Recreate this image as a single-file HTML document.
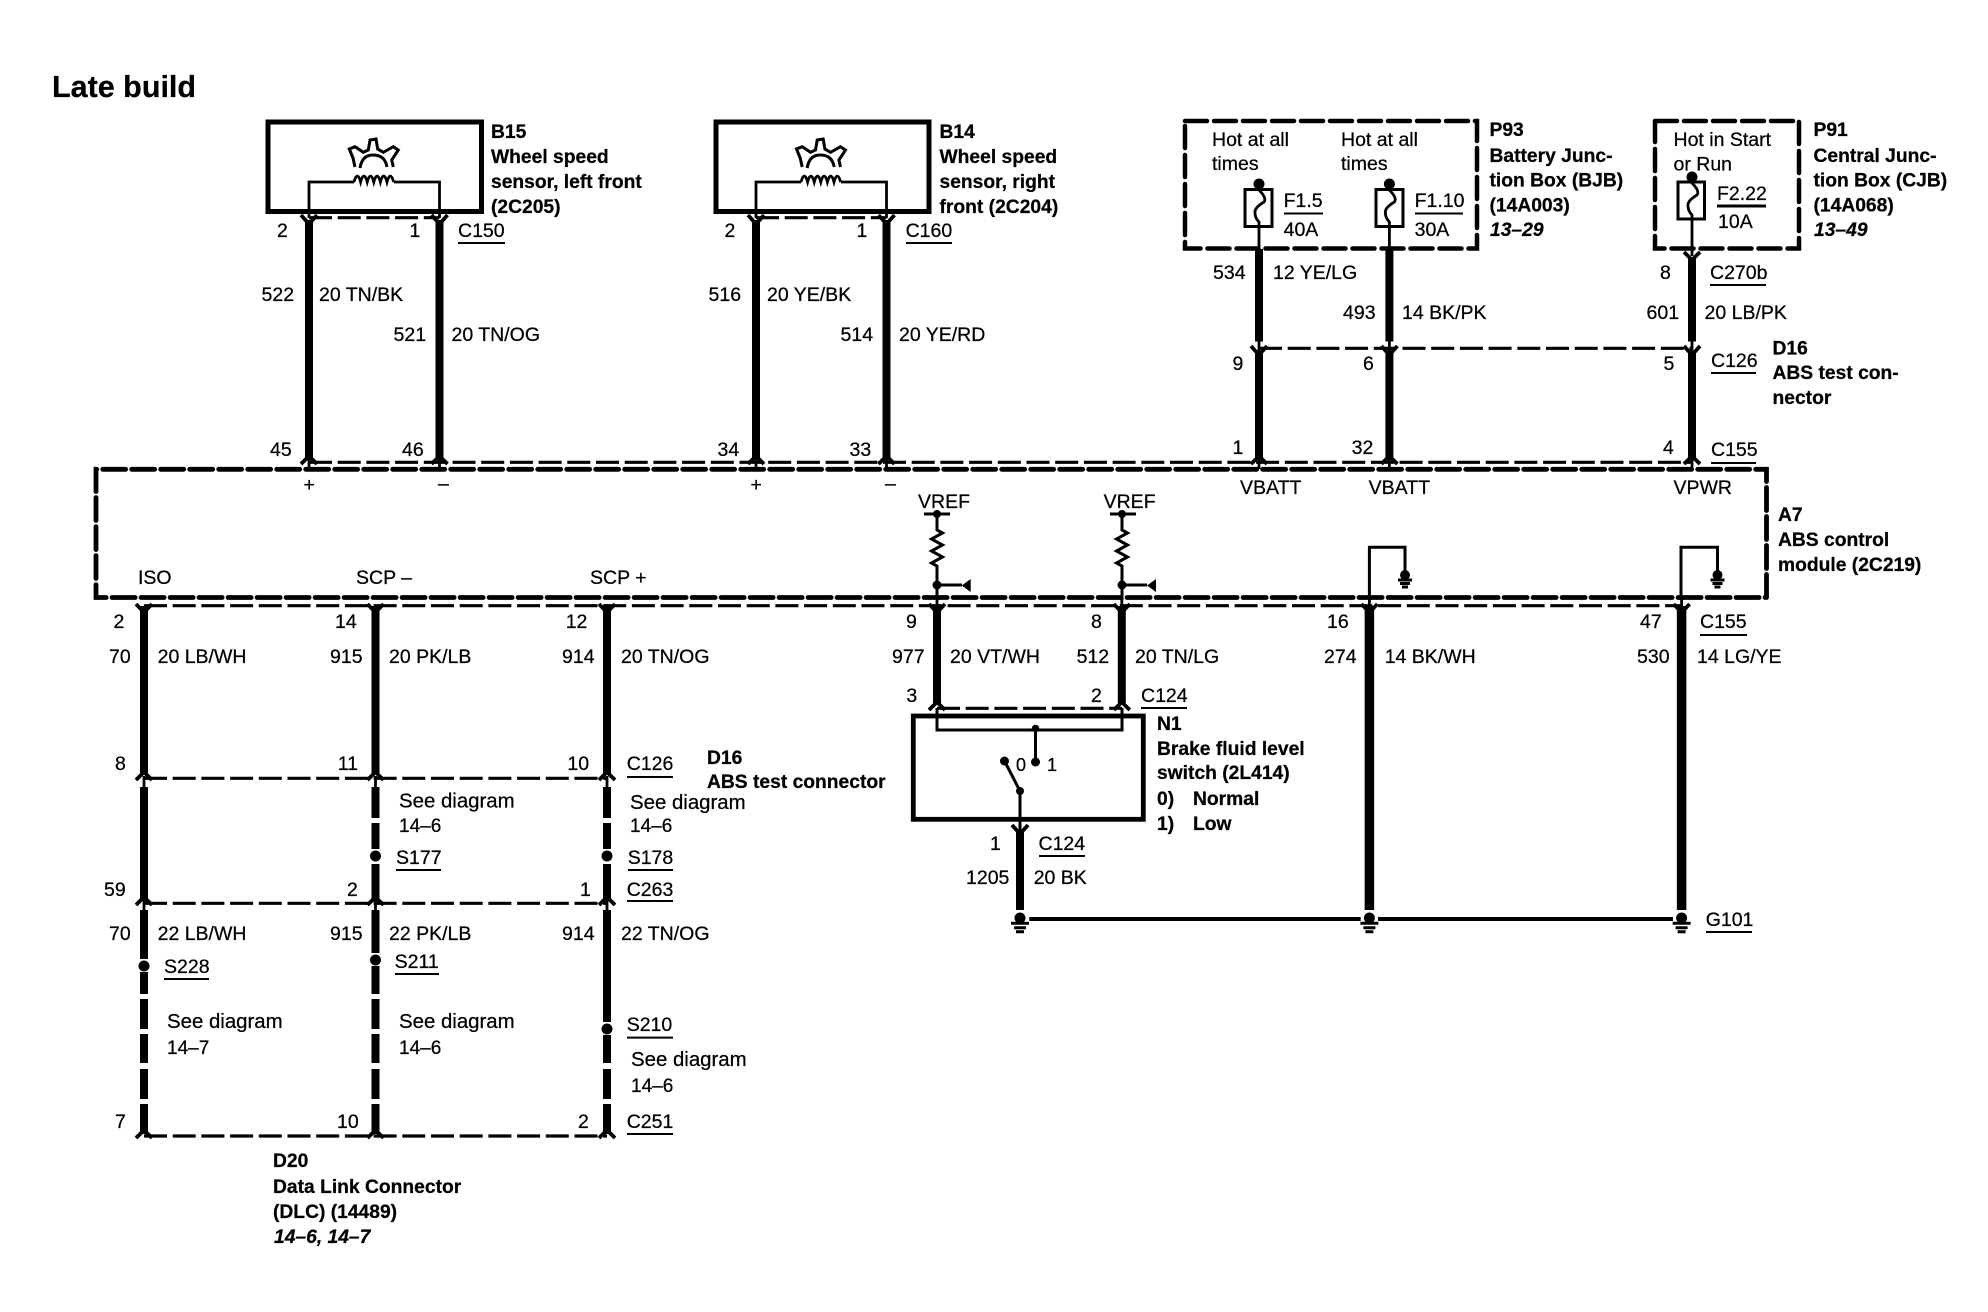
<!DOCTYPE html>
<html><head><meta charset="utf-8"><title>Late build</title>
<style>
html,body{margin:0;padding:0;background:#fff}
svg{display:block}
text{font-family:"Liberation Sans",sans-serif;font-size:19.5px;fill:#000;stroke:#000;stroke-width:.25}
.b{font-weight:bold;font-size:19.25px}
.bi{font-weight:bold;font-style:italic;font-size:19.25px}
.t{font-size:30.5px;font-weight:bold}
.sd{font-size:20.4px}
.nn{font-size:19px}
.sw{font-size:18px}
.w{stroke:#000;stroke-width:8;fill:none}
.h{stroke:#000;stroke-width:9.5;fill:none}
.n{stroke:#000;stroke-width:2.8;fill:none}
.m{stroke:#000;stroke-width:3;fill:none}
.c{stroke:#000;stroke-width:3.8;fill:none}
.box{stroke:#000;stroke-width:5;fill:none}
.dm{stroke:#000;stroke-width:4.8;fill:none;stroke-dasharray:23 6;stroke-linecap:round}
.dc{stroke:#000;stroke-width:3.2;fill:none;stroke-dasharray:23 5.700}
.u{stroke:#000;stroke-width:2;fill:none}
</style></head><body>
<svg xmlns="http://www.w3.org/2000/svg" width="1988" height="1312" viewBox="0 0 1988 1312">
<rect width="1988" height="1312" fill="#fff"/>
<text class="t" x="52" y="97">Late build</text>

<!-- Sensor boxes -->
<rect class="box" x="268" y="122" width="213.5" height="89.500"/>
<rect class="box" x="716" y="122" width="213" height="89.500"/>
<path class="n" d="M309 218V182H354M394 182H439.500V218"/>
<path class="n" d="M354 182q1.600-6 3.300-6t3.300 6q1.600-6 3.300-6t3.300 6q1.600-6 3.300-6t3.300 6q1.600-6 3.300-6t3.300 6q1.600-6 3.300-6t3.300 6q1.600-6 3.300-6t3.300 6"/>
<path class="n" d="M756 218V182H801M841 182H886.500V218"/>
<path class="n" d="M801 182q1.600-6 3.300-6t3.300 6q1.600-6 3.300-6t3.300 6q1.600-6 3.300-6t3.300 6q1.600-6 3.300-6t3.300 6q1.600-6 3.300-6t3.300 6q1.600-6 3.300-6t3.300 6"/>
<path class="m" d="M355 167L353 158L349.300 149L355 146.700L363.300 152.300L368.300 150L370 140L376 139L377.700 149L383.300 152.300L393.300 146.700L398.300 150L391.700 160L393.300 167M360 168Q362 155 373 155Q385 155 387 167"/>
<path class="m" d="M802.200 167L800.200 158L796.500 149L802.200 146.700L810.500 152.300L815.500 150L817.200 140L823.200 139L824.900 149L830.500 152.300L840.500 146.700L845.500 150L838.900 160L840.500 167M807.200 168Q809.200 155 820.200 155Q832.200 155 834.200 167"/>

<!-- Module A7 -->
<path class="dm" d="M1766.500 597.500V469.300H96V597.500H1766.500"/>

<!-- connector dashed lines -->
<path class="dc" d="M309 217.700H439.500M756 217.700H886.500"/>
<path class="dc" d="M309 462.300H1692"/>
<path class="dc" d="M1259 348.300H1692"/>
<path class="dc" d="M144 605.700H1682"/>
<path class="dc" d="M937 708.300H1122"/>
<path class="dc" d="M144 778.300H607M144 903.300H607M144 1136H607"/>

<!-- top thick wires -->
<path class="w" d="M309 220V460M439.500 220V460M756 220V460M886.500 220V460"/>
<path class="w" d="M1259 249V341.500M1389.400 249V341.500M1692 258V341.500M1259 352V460M1389.400 352V460M1692 352V460"/>
<path class="n" d="M1259 341V352M1389.400 341V352M1692 341V352"/>

<!-- chevrons -->
<path class="c" d="M301 215l8 9l8-9M431.500 215l8 9l8-9M748 215l8 9l8-9M878.500 215l8 9l8-9"/>
<path class="c" d="M301 464l8-8l8 8M431.500 464l8-8l8 8M748 464l8-8l8 8M878.500 464l8-8l8 8M1251 464l8-8l8 8M1381.400 464l8-8l8 8M1684 464l8-8l8 8"/>
<path class="c" d="M1251 346l8 9l8-9M1381.400 346l8 9l8-9M1684 346l8 9l8-9M1684 252l8 8l8-8"/>
<path class="n" d="M309 456V469M439.500 456V469M756 456V469M886.500 456V469M1259 456V469M1389.400 456V469M1692 456V469"/>

<!-- Fuse boxes -->
<path class="dm" style="stroke-width:4.500;stroke-dasharray:22 7" d="M1185 121H1477V248.500H1185V121"/>
<path class="dm" style="stroke-width:4.500;stroke-dasharray:22 7" d="M1655 121H1799V248.500H1655V121"/>
<rect class="m" x="1245" y="189.500" width="27" height="37"/>
<rect class="m" x="1376" y="189.500" width="27" height="37"/>
<rect class="m" x="1678" y="182" width="26.500" height="37"/>
<path class="n" d="M1259 184V190Q1267 198 1264 202Q1254 208 1255 213Q1255 218 1259 222V249"/>
<path class="n" d="M1389.400 184V190Q1397.400 198 1394.400 202Q1384.400 208 1385.400 213Q1385.400 218 1389.400 222V249"/>
<path class="n" d="M1692 177V183Q1700 191 1697 195Q1687 201 1688 206Q1688 211 1692 215V256"/>
<circle cx="1259" cy="184" r="5.500"/><circle cx="1389.400" cy="184" r="5.500"/><circle cx="1692" cy="177" r="5.500"/>
<path class="u" d="M1284 213.500H1323M1415 213.500H1463"/>
<path class="m" d="M1717 206H1766"/>

<!-- bottom thick wires -->
<path class="w" d="M144 606V775M375.500 606V775M607 606V775"/>
<path class="w" d="M937 606V703M1121.800 606V703"/>
<path class="h" d="M1369.400 606V910M1681.600 606V910"/>
<path class="n" d="M937 597V610M1121.800 597V610M1369.400 597V610M1681.600 597V610"/>
<path class="c" d="M136 604l8 8.500l8-8.500M367.500 604l8 8.500l8-8.500M599 604l8 8.500l8-8.500M929 604l8 8.500l8-8.500M1113.800 604l8 8.500l8-8.500M1361.400 604l8 8.500l8-8.500M1673.600 604l8 8.500l8-8.500"/>
<path class="c" d="M136 780l8-8l8 8M367.500 780l8-8l8 8M599 780l8-8l8 8M136 905l8-8l8 8M367.500 905l8-8l8 8M599 905l8-8l8 8M136 1138l8-8l8 8M367.500 1138l8-8l8 8M599 1138l8-8l8 8M929 710l8-8l8 8M1113.800 710l8-8l8 8"/>
<path class="n" d="M144 776V788M375.500 776V788M607 776V788M144 900V911M375.500 900V911M607 900V911"/>

<!-- lower harness -->
<path class="w" d="M144 787V899M375.500 787V818M375.500 823V849M375.500 864V899M607 787V818M607 823V849M607 864V899"/>
<path class="w" d="M144 910V959M144 972V994M144 999V1029M144 1034V1063M144 1069V1099M144 1104V1134"/>
<path class="w" d="M375.500 910V953M375.500 966V994M375.500 999V1029M375.500 1034V1063M375.500 1069V1099M375.500 1104V1134"/>
<path class="w" d="M607 910V1022M607 1035V1063M607 1069V1099M607 1104V1134"/>
<circle cx="375.500" cy="856" r="5.500"/><circle cx="607" cy="856" r="5.500"/>
<circle cx="144" cy="966" r="5.500"/><circle cx="375.500" cy="960" r="5.500"/><circle cx="607" cy="1029" r="5.500"/>

<!-- VREF -->
<path class="m" d="M924 514H950M1110 514H1136"/>
<circle cx="937" cy="514" r="4"/><circle cx="1122" cy="514" r="4"/>
<path class="m" d="M937 514V530l5.500 3l-11 6l11 6l-11 6l11 6l-11 6l5.500 3V600"/>
<path class="m" d="M1122 514V530l5.500 3l-11 6l11 6l-11 6l11 6l-11 6l5.500 3V600"/>
<circle cx="937" cy="585" r="4.500"/><circle cx="1122" cy="585" r="4.500"/>
<path class="m" d="M937 585H962M1122 585H1147"/>
<path d="M961.700 585.500l9-6.500v13zM1147 585.500l9-6.500v13z"/>

<!-- internal ground loops -->
<path class="m" d="M1369.400 600V547.300H1405V573"/>
<path class="m" d="M1681 600V547.300H1717.500V573"/>
<circle cx="1405" cy="575" r="5"/><circle cx="1717.500" cy="575" r="5"/>
<path class="m" d="M1398 580H1412M1400 583.500H1410M1402 587H1408M1710.500 580H1724.500M1712.500 583.500H1722.500M1714.500 587H1720.500"/>

<!-- N1 -->
<rect x="913.300" y="716" width="230" height="103.300" fill="none" stroke="#000" stroke-width="4.800"/>
<path class="m" d="M937 708V730H1122V708"/>
<circle cx="1035.500" cy="728.500" r="3.800"/>
<path class="m" d="M1035.500 728V762"/>
<circle cx="1035.500" cy="762" r="4.500"/>
<circle cx="1004.500" cy="761" r="4.500"/>
<path class="m" d="M1004.500 761L1020 791V830"/>
<circle cx="1020" cy="791" r="4"/>
<path class="c" d="M1012 825l8 9l8-9"/>
<path class="w" d="M1020 830V910"/>

<!-- Grounds -->
<circle cx="1020" cy="918" r="5.500"/><circle cx="1369.400" cy="918" r="5.500"/><circle cx="1681.600" cy="918" r="5.500"/>
<path class="m" d="M1011 923.300H1029M1014 927.700H1026M1016 931.700H1024M1360.400 923.300H1378.400M1363.400 927.700H1375.400M1365.400 931.700H1373.400M1672.600 923.300H1690.600M1675.600 927.700H1687.600M1677.600 931.700H1685.600"/>
<path stroke="#000" stroke-width="4" d="M1029.300 919H1360.700M1378 919H1673"/>

<!-- Underlines -->
<path class="u" d="M458 243H505M906 243H952M1710 285H1766M1711 373H1756M1711 463H1756M1700 635H1747M1141 708H1187M1039 856H1085M1706 932H1752M627 777H673M627 901H673M396 870H441M628 870H673M164 979H209M395 974H439M627 1037.600H673M627 1134H673"/>

<!-- Labels -->
<text class="b" x="491" y="138">B15</text>
<text class="b" x="491" y="163">Wheel speed</text>
<text class="b" x="491" y="188">sensor, left front</text>
<text class="b" x="491" y="213">(2C205)</text>
<text class="b" x="939.500" y="138">B14</text>
<text class="b" x="939.500" y="163">Wheel speed</text>
<text class="b" x="939.500" y="188">sensor, right</text>
<text class="b" x="939.500" y="213">front (2C204)</text>

<text x="277" y="237">2</text><text x="409.500" y="237">1</text><text x="458" y="237">C150</text>
<text x="724.500" y="237">2</text><text x="856.500" y="237">1</text><text x="905.600" y="237">C160</text>
<text x="261.500" y="301">522</text><text x="319" y="301">20 TN/BK</text>
<text x="393.500" y="341">521</text><text x="451.500" y="341">20 TN/OG</text>
<text x="708.500" y="301">516</text><text x="767" y="301">20 YE/BK</text>
<text x="840.500" y="341">514</text><text x="899" y="341">20 YE/RD</text>
<text x="270" y="456">45</text><text x="402" y="456">46</text>
<text x="717.500" y="456">34</text><text x="849.500" y="456">33</text>
<text x="303.500" y="491">+</text><text x="438" y="490">–</text>
<text x="750.500" y="491">+</text><text x="885" y="490">–</text>

<text x="1212" y="146">Hot at all</text><text x="1212" y="170">times</text>
<text x="1341" y="146">Hot at all</text><text x="1341" y="170">times</text>
<text x="1673.500" y="146">Hot in Start</text><text x="1673.500" y="170.500">or Run</text>
<text x="1283.600" y="207">F1.5</text><text x="1283.600" y="236">40A</text>
<text x="1414.600" y="207">F1.10</text><text x="1414.600" y="236">30A</text>
<text x="1717" y="200">F2.22</text><text x="1718" y="228">10A</text>

<text class="b" x="1489.500" y="136">P93</text>
<text class="b" x="1489.500" y="162">Battery Junc-</text>
<text class="b" x="1489.500" y="186.500">tion Box (BJB)</text>
<text class="b" x="1489.500" y="211.500">(14A003)</text>
<text class="bi" x="1490" y="236">13–29</text>
<text class="b" x="1813.500" y="136">P91</text>
<text class="b" x="1813.500" y="162">Central Junc-</text>
<text class="b" x="1813.500" y="186.500">tion Box (CJB)</text>
<text class="b" x="1813.500" y="211.500">(14A068)</text>
<text class="bi" x="1814" y="236">13–49</text>

<text x="1213" y="279">534</text><text x="1273" y="279">12 YE/LG</text>
<text x="1343" y="319">493</text><text x="1402" y="319">14 BK/PK</text>
<text x="1660" y="279">8</text><text x="1710" y="279">C270b</text>
<text x="1646.500" y="319">601</text><text x="1704.500" y="319">20 LB/PK</text>
<text x="1232.500" y="370">9</text><text x="1363" y="370">6</text><text x="1663.500" y="370">5</text><text x="1711" y="367">C126</text>
<text class="b" x="1772.500" y="354.500">D16</text>
<text class="b" x="1772.500" y="379">ABS test con-</text>
<text class="b" x="1772.500" y="404">nector</text>
<text x="1232.500" y="454">1</text><text x="1351.600" y="454">32</text><text x="1663" y="454">4</text><text x="1711" y="456">C155</text>
<text x="1240" y="494">VBATT</text><text x="1368.600" y="494">VBATT</text><text x="1673.500" y="494">VPWR</text>
<text x="918" y="508">VREF</text><text x="1103.600" y="508">VREF</text>
<text class="b" x="1778" y="521">A7</text>
<text class="b" x="1778" y="546">ABS control</text>
<text class="b" x="1778" y="571">module (2C219)</text>

<text x="138" y="584">ISO</text><text x="356" y="584">SCP –</text><text x="590" y="584">SCP +</text>

<text x="113.500" y="628">2</text><text x="335" y="628">14</text><text x="565.700" y="628">12</text>
<text x="906" y="628">9</text><text x="1091" y="628">8</text><text x="1327" y="628">16</text><text x="1640" y="628">47</text><text x="1700" y="628">C155</text>
<text x="109" y="663">70</text><text x="157.600" y="663">20 LB/WH</text>
<text x="330" y="663">915</text><text x="389" y="663">20 PK/LB</text>
<text x="562" y="663">914</text><text x="621" y="663">20 TN/OG</text>
<text x="892" y="663">977</text><text x="950" y="663">20 VT/WH</text>
<text x="1076.600" y="663">512</text><text x="1135" y="663">20 TN/LG</text>
<text x="1324" y="663">274</text><text x="1384.700" y="663">14 BK/WH</text>
<text x="1637" y="663">530</text><text x="1697" y="663">14 LG/YE</text>
<text x="906.400" y="702">3</text><text x="1091" y="702">2</text><text x="1141" y="702">C124</text>

<text class="b" x="1157" y="730">N1</text>
<text class="b" x="1157" y="755">Brake fluid level</text>
<text class="b" x="1157" y="779">switch (2L414)</text>
<text class="b" x="1157" y="805">0)</text><text class="b" x="1193" y="805">Normal</text>
<text class="b" x="1157" y="830">1)</text><text class="b" x="1193" y="830">Low</text>
<text class="sw" x="1016" y="771">0</text><text class="sw" x="1047" y="771">1</text>
<text x="990" y="850">1</text><text x="1038.500" y="850">C124</text>
<text x="966" y="884">1205</text><text x="1033.700" y="884">20 BK</text>
<text x="1705.700" y="926">G101</text>

<text x="115" y="770">8</text><text x="337.700" y="770">11</text><text x="567.400" y="770">10</text><text x="626.700" y="770">C126</text>
<text class="b" x="707" y="764">D16</text>
<text class="b" x="707" y="788">ABS test connector</text>
<text class="sd" x="399" y="807.600">See diagram</text><text class="nn" x="399" y="832">14–6</text>
<text class="sd" x="630" y="809">See diagram</text><text class="nn" x="630" y="832">14–6</text>
<text x="396" y="864">S177</text><text x="627.700" y="864">S178</text>
<text x="104" y="896">59</text><text x="347" y="896">2</text><text x="580" y="896">1</text><text x="626.700" y="896">C263</text>
<text x="109" y="940">70</text><text x="157.600" y="940">22 LB/WH</text>
<text x="330" y="940">915</text><text x="389" y="940">22 PK/LB</text>
<text x="562" y="940">914</text><text x="621" y="940">22 TN/OG</text>
<text x="164" y="973">S228</text><text x="394.600" y="968">S211</text><text x="626.700" y="1031">S210</text>
<text class="sd" x="167" y="1028">See diagram</text><text class="nn" x="167" y="1054">14–7</text>
<text class="sd" x="399" y="1028">See diagram</text><text class="nn" x="399" y="1054">14–6</text>
<text class="sd" x="631" y="1066">See diagram</text><text class="nn" x="631" y="1092">14–6</text>
<text x="115" y="1128">7</text><text x="337" y="1128">10</text><text x="578" y="1128">2</text><text x="626.700" y="1128">C251</text>
<text class="b" x="273" y="1167">D20</text>
<text class="b" x="273" y="1193">Data Link Connector</text>
<text class="b" x="273" y="1218">(DLC) (14489)</text>
<text class="bi" x="274" y="1243">14–6, 14–7</text>
</svg>
</body></html>
